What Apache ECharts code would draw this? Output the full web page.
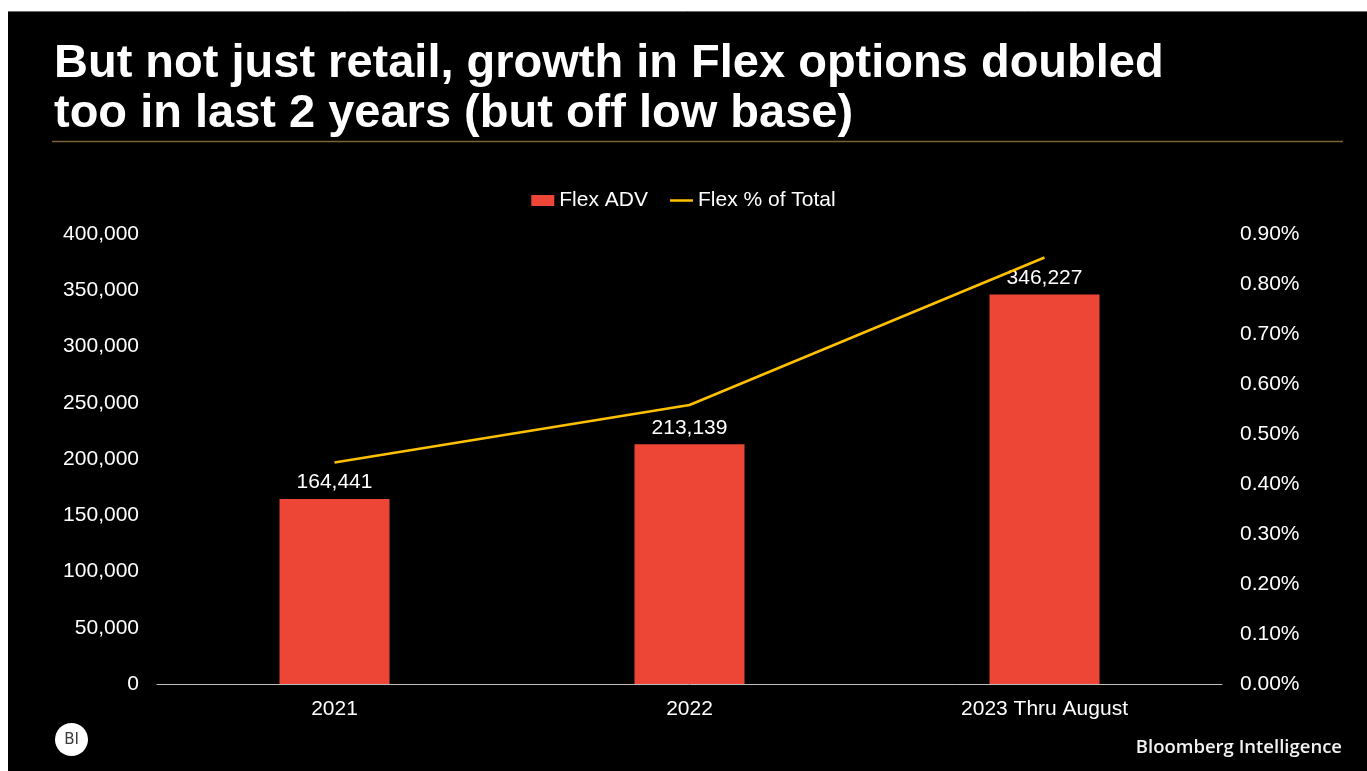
<!DOCTYPE html>
<html>
<head>
<meta charset="utf-8">
<script src="https://cdn.jsdelivr.net/npm/echarts@6/dist/echarts.min.js"></script>
<style>
  html, body { margin: 0; padding: 0; background: #ffffff; }
  #chart { width: 1367px; height: 771px; }
</style>
</head>
<body>
<div id="chart"></div>
<script>
// Flex options average daily volume and share of total options volume
const categories = ['2021', '2022', '2023 Thru August'];
const flexADV = [164441, 213139, 346227];
const flexPctOfTotal = [0.443, 0.558, 0.853]; // percent
const leftTicks = { min: 0, max: 400000, interval: 50000 };
const rightTicks = { min: 0, max: 0.9, interval: 0.1 };

const titleText = 'But not just retail, growth in Flex options doubled\ntoo in last 2 years (but off low base)';
const fontFamily = '"Liberation Sans", Arial, sans-serif';

// thin horizontal stroke, padded to the legend item box so it is not stretched
const lineIcon = 'path://M0,0L0.01,0L0,0.01Z M0,4.25L23,4.25L23,6.75L0,6.75Z M23,11L22.99,11L23,10.99Z';

const chart = echarts.init(document.getElementById('chart'), null, { renderer: 'canvas' });

chart.setOption({
  backgroundColor: '#ffffff',
  animation: false,
  title: {
    text: titleText,
    left: 49,
    top: 34,
    textStyle: {
      color: '#ffffff',
      fontFamily: fontFamily,
      fontWeight: 'bold',
      fontSize: 47,
      lineHeight: 50
    }
  },
  graphic: [
    {
      type: 'rect',
      z: -10,
      shape: { x: 8, y: 11, width: 1359, height: 760 },
      style: { fill: '#000000' }
    },
    {
      type: 'line',
      z: -9,
      shape: { x1: 8, y1: 11.5, x2: 1367, y2: 11.5 },
      style: { stroke: '#6e6e6e', lineWidth: 1 }
    },
    {
      type: 'line',
      z: 5,
      shape: { x1: 52, y1: 141.5, x2: 1343, y2: 141.5 },
      style: { stroke: '#7d6137', lineWidth: 1.5 }
    },
    {
      type: 'circle',
      z: 5,
      shape: { cx: 71.5, cy: 739.5, r: 16.5 },
      style: { fill: '#ffffff' }
    },
    {
      type: 'text',
      z: 6,
      x: 71.5,
      y: 740,
      style: {
        text: 'BI',
        fill: '#3a3a3a',
        font: '15px "DejaVu Sans", sans-serif',
        align: 'center',
        verticalAlign: 'middle'
      }
    },
    {
      type: 'text',
      z: 6,
      x: 1342,
      y: 748,
      style: {
        text: 'Bloomberg Intelligence',
        fill: '#f2f2f2',
        font: '600 18.5px "Open Sans", sans-serif',
        align: 'right',
        verticalAlign: 'middle'
      }
    }
  ],
  legend: {
    top: 185,
    left: 'center',
    itemGap: 22,
    itemWidth: 23,
    itemHeight: 11,
    textStyle: { color: '#ffffff', fontFamily: fontFamily, fontSize: 21 },
    data: [
      { name: 'Flex ADV', icon: 'rect' },
      { name: 'Flex % of Total', icon: lineIcon }
    ]
  },
  grid: { left: 157, right: 145, top: 234, bottom: 87 },
  xAxis: {
    type: 'category',
    data: categories,
    axisLine: { show: true, lineStyle: { color: '#bfbfbf', width: 1 } },
    axisTick: { show: false },
    axisLabel: { color: '#ffffff', fontFamily: fontFamily, fontSize: 21, margin: 15 }
  },
  yAxis: [
    {
      type: 'value',
      min: leftTicks.min,
      max: leftTicks.max,
      interval: leftTicks.interval,
      splitLine: { show: false },
      axisLine: { show: false },
      axisTick: { show: false },
      axisLabel: {
        color: '#ffffff',
        fontFamily: fontFamily,
        fontSize: 21,
        margin: 18,
        formatter: v => v.toLocaleString('en-US')
      }
    },
    {
      type: 'value',
      min: rightTicks.min,
      max: rightTicks.max,
      interval: rightTicks.interval,
      splitLine: { show: false },
      axisLine: { show: false },
      axisTick: { show: false },
      axisLabel: {
        color: '#ffffff',
        fontFamily: fontFamily,
        fontSize: 21,
        margin: 18,
        formatter: v => v.toFixed(2) + '%'
      }
    }
  ],
  series: [
    {
      name: 'Flex ADV',
      type: 'bar',
      yAxisIndex: 0,
      data: flexADV,
      barWidth: 110,
      itemStyle: { color: '#ED4637' },
      label: {
        show: true,
        position: 'top',
        distance: 6,
        color: '#ffffff',
        fontFamily: fontFamily,
        fontSize: 21,
        formatter: p => p.value.toLocaleString('en-US')
      }
    },
    {
      name: 'Flex % of Total',
      type: 'line',
      yAxisIndex: 1,
      data: flexPctOfTotal,
      symbol: 'none',
      lineStyle: { color: '#FFC000', width: 2.5 },
      itemStyle: { color: '#FFC000' },
      z: 3
    }
  ]
});
</script>
</body>
</html>
